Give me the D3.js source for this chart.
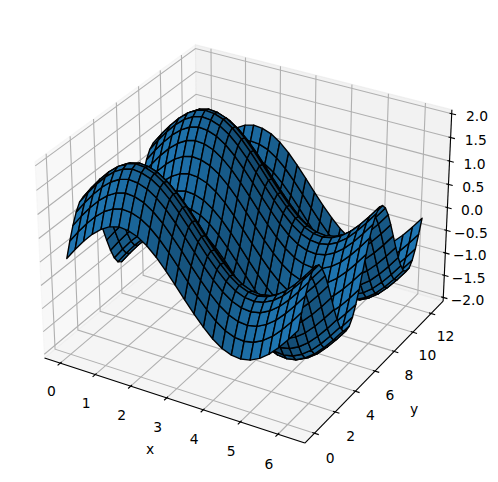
<!DOCTYPE html>
<html><head><meta charset="utf-8">
<style>html,body{margin:0;padding:0;background:#fff}svg{display:block}text{font-family:"DejaVu Sans",sans-serif;font-size:13.89px;fill:#000}</style>
<script src="https://cdn.jsdelivr.net/npm/d3@7"></script></head><body>
<script>
const xValues=[0,.25,.5,.75,1,1.25,1.5,1.75,2,2.25,2.5,2.75,3,3.25,3.5,3.75,4,4.25,4.5,4.75,5,5.25,5.5,5.75,6,6.25];
const yValues=[0,.31,.62,.93,1.24,1.56,1.87,2.18,2.49,2.8,3.11,3.42,3.73,4.04,4.35,4.67,4.98,5.29,5.6,5.91,6.22,6.53,6.84,7.15,7.46,7.78,8.09,8.4,8.71,9.02,9.33,9.64,9.95,10.26,10.57,10.89,11.2,11.51,11.82,12.13,12.44];
const zGrid=[
[0,.25,.48,.68,.84,.95,1,.98,.91,.78,.6,.38,.14,-.11,-.35,-.57,-.76,-.9,-.98,-1,-.96,-.86,-.71,-.51,-.28,-.03],
[.31,.56,.79,.99,1.15,1.26,1.31,1.29,1.22,1.09,.91,.69,.45,.2,-.04,-.26,-.45,-.59,-.67,-.69,-.65,-.55,-.4,-.2,.03,.28],
[.58,.83,1.06,1.26,1.42,1.53,1.58,1.56,1.49,1.36,1.18,.96,.72,.47,.23,.01,-.18,-.32,-.4,-.42,-.38,-.28,-.13,.07,.3,.55],
[.8,1.05,1.28,1.48,1.64,1.75,1.8,1.78,1.71,1.58,1.4,1.18,.94,.69,.45,.23,.04,-.1,-.18,-.2,-.16,-.06,.09,.29,.52,.77],
[.95,1.2,1.43,1.63,1.79,1.9,1.95,1.93,1.86,1.73,1.55,1.33,1.09,.84,.6,.38,.19,.05,-.03,-.05,-.01,.09,.24,.44,.67,.92],
[1,1.25,1.48,1.68,1.84,1.95,2,1.98,1.91,1.78,1.6,1.38,1.14,.89,.65,.43,.24,.1,.02,0,.04,.14,.29,.49,.72,.97],
[.96,1.21,1.44,1.64,1.8,1.91,1.96,1.94,1.87,1.74,1.56,1.34,1.1,.85,.61,.39,.2,.06,-.02,-.04,0,.1,.25,.45,.68,.93],
[.82,1.07,1.3,1.5,1.66,1.77,1.82,1.8,1.73,1.6,1.42,1.2,.96,.71,.47,.25,.06,-.08,-.16,-.18,-.14,-.04,.11,.31,.54,.79],
[.61,.86,1.09,1.29,1.45,1.56,1.61,1.59,1.52,1.39,1.21,.99,.75,.5,.26,.04,-.15,-.29,-.37,-.39,-.35,-.25,-.1,.1,.33,.58],
[.34,.59,.82,1.02,1.18,1.29,1.34,1.32,1.25,1.12,.94,.72,.48,.23,-.01,-.23,-.42,-.56,-.64,-.66,-.62,-.52,-.37,-.17,.06,.31],
[.03,.28,.51,.71,.87,.98,1.03,1.01,.94,.81,.63,.41,.17,-.08,-.32,-.54,-.73,-.87,-.95,-.97,-.93,-.83,-.68,-.48,-.25,0],
[-.28,-.03,.2,.4,.56,.67,.72,.7,.63,.5,.32,.1,-.14,-.39,-.63,-.85,-1.04,-1.18,-1.26,-1.28,-1.24,-1.14,-.99,-.79,-.56,-.31],
[-.56,-.31,-.08,.12,.28,.39,.44,.42,.35,.22,.04,-.18,-.42,-.67,-.91,-1.13,-1.32,-1.46,-1.54,-1.56,-1.52,-1.42,-1.27,-1.07,-.84,-.59],
[-.79,-.54,-.31,-.11,.05,.16,.21,.19,.12,-.01,-.19,-.41,-.65,-.9,-1.14,-1.36,-1.55,-1.69,-1.77,-1.79,-1.75,-1.65,-1.5,-1.3,-1.07,-.82],
[-.94,-.69,-.46,-.26,-.1,.01,.06,.04,-.03,-.16,-.34,-.56,-.8,-1.05,-1.29,-1.51,-1.7,-1.84,-1.92,-1.94,-1.9,-1.8,-1.65,-1.45,-1.22,-.97],
[-1,-.75,-.52,-.32,-.16,-.05,0,-.02,-.09,-.22,-.4,-.62,-.86,-1.11,-1.35,-1.57,-1.76,-1.9,-1.98,-2,-1.96,-1.86,-1.71,-1.51,-1.28,-1.03],
[-.97,-.72,-.49,-.29,-.13,-.02,.03,.01,-.06,-.19,-.37,-.59,-.83,-1.08,-1.32,-1.54,-1.73,-1.87,-1.95,-1.97,-1.93,-1.83,-1.68,-1.48,-1.25,-1],
[-.84,-.59,-.36,-.16,0,.11,.16,.14,.07,-.06,-.24,-.46,-.7,-.95,-1.19,-1.41,-1.6,-1.74,-1.82,-1.84,-1.8,-1.7,-1.55,-1.35,-1.12,-.87],
[-.63,-.38,-.15,.05,.21,.32,.37,.35,.28,.15,-.03,-.25,-.49,-.74,-.98,-1.2,-1.39,-1.53,-1.61,-1.63,-1.59,-1.49,-1.34,-1.14,-.91,-.66],
[-.37,-.12,.11,.31,.47,.58,.63,.61,.54,.41,.23,.01,-.23,-.48,-.72,-.94,-1.13,-1.27,-1.35,-1.37,-1.33,-1.23,-1.08,-.88,-.65,-.4],
[-.06,.19,.42,.62,.78,.89,.94,.92,.85,.72,.54,.32,.08,-.17,-.41,-.63,-.82,-.96,-1.04,-1.06,-1.02,-.92,-.77,-.57,-.34,-.09],
[.25,.5,.73,.93,1.09,1.2,1.25,1.23,1.16,1.03,.85,.63,.39,.14,-.1,-.32,-.51,-.65,-.73,-.75,-.71,-.61,-.46,-.26,-.03,.22],
[.53,.78,1.01,1.21,1.37,1.48,1.53,1.51,1.44,1.31,1.13,.91,.67,.42,.18,-.04,-.23,-.37,-.45,-.47,-.43,-.33,-.18,.02,.25,.5],
[.76,1.01,1.24,1.44,1.6,1.71,1.76,1.74,1.67,1.54,1.36,1.14,.9,.65,.41,.19,0,-.14,-.22,-.24,-.2,-.1,.05,.25,.48,.73],
[.92,1.17,1.4,1.6,1.76,1.87,1.92,1.9,1.83,1.7,1.52,1.3,1.06,.81,.57,.35,.16,.02,-.06,-.08,-.04,.06,.21,.41,.64,.89],
[1,1.25,1.48,1.68,1.84,1.95,2,1.98,1.91,1.78,1.6,1.38,1.14,.89,.65,.43,.24,.1,.02,0,.04,.14,.29,.49,.72,.97],
[.97,1.22,1.45,1.65,1.81,1.92,1.97,1.95,1.88,1.75,1.57,1.35,1.11,.86,.62,.4,.21,.07,-.01,-.03,.01,.11,.26,.46,.69,.94],
[.86,1.11,1.34,1.54,1.7,1.81,1.86,1.84,1.77,1.64,1.46,1.24,1,.75,.51,.29,.1,-.04,-.12,-.14,-.1,0,.15,.35,.58,.83],
[.66,.91,1.14,1.34,1.5,1.61,1.66,1.64,1.57,1.44,1.26,1.04,.8,.55,.31,.09,-.1,-.24,-.32,-.34,-.3,-.2,-.05,.15,.38,.63],
[.39,.64,.87,1.07,1.23,1.34,1.39,1.37,1.3,1.17,.99,.77,.53,.28,.04,-.18,-.37,-.51,-.59,-.61,-.57,-.47,-.32,-.12,.11,.36],
[.09,.34,.57,.77,.93,1.04,1.09,1.07,1,.87,.69,.47,.23,-.02,-.26,-.48,-.67,-.81,-.89,-.91,-.87,-.77,-.62,-.42,-.19,.06],
[-.22,.03,.26,.46,.62,.73,.78,.76,.69,.56,.38,.16,-.08,-.33,-.57,-.79,-.98,-1.12,-1.2,-1.22,-1.18,-1.08,-.93,-.73,-.5,-.25],
[-.5,-.25,-.02,.18,.34,.45,.5,.48,.41,.28,.1,-.12,-.36,-.61,-.85,-1.07,-1.26,-1.4,-1.48,-1.5,-1.46,-1.36,-1.21,-1.01,-.78,-.53],
[-.74,-.49,-.26,-.06,.1,.21,.26,.24,.17,.04,-.14,-.36,-.6,-.85,-1.09,-1.31,-1.5,-1.64,-1.72,-1.74,-1.7,-1.6,-1.45,-1.25,-1.02,-.77],
[-.91,-.66,-.43,-.23,-.07,.04,.09,.07,0,-.13,-.31,-.53,-.77,-1.02,-1.26,-1.48,-1.67,-1.81,-1.89,-1.91,-1.87,-1.77,-1.62,-1.42,-1.19,-.94],
[-.99,-.74,-.51,-.31,-.15,-.04,.01,-.01,-.08,-.21,-.39,-.61,-.85,-1.1,-1.34,-1.56,-1.75,-1.89,-1.97,-1.99,-1.95,-1.85,-1.7,-1.5,-1.27,-1.02],
[-.98,-.73,-.5,-.3,-.14,-.03,.02,0,-.07,-.2,-.38,-.6,-.84,-1.09,-1.33,-1.55,-1.74,-1.88,-1.96,-1.98,-1.94,-1.84,-1.69,-1.49,-1.26,-1.01],
[-.87,-.62,-.39,-.19,-.03,.08,.13,.11,.04,-.09,-.27,-.49,-.73,-.98,-1.22,-1.44,-1.63,-1.77,-1.85,-1.87,-1.83,-1.73,-1.58,-1.38,-1.15,-.9],
[-.68,-.43,-.2,0,.16,.27,.32,.3,.23,.1,-.08,-.3,-.54,-.79,-1.03,-1.25,-1.44,-1.58,-1.66,-1.68,-1.64,-1.54,-1.39,-1.19,-.96,-.71],
[-.42,-.17,.06,.26,.42,.53,.58,.56,.49,.36,.18,-.04,-.28,-.53,-.77,-.99,-1.18,-1.32,-1.4,-1.42,-1.38,-1.28,-1.13,-.93,-.7,-.45],
[-.13,.12,.35,.55,.71,.82,.87,.85,.78,.65,.47,.25,.01,-.24,-.48,-.7,-.89,-1.03,-1.11,-1.13,-1.09,-.99,-.84,-.64,-.41,-.16]
];
const xTicks=[0,1,2,3,4,5,6], yTicks=[0,2,4,6,8,10,12], zTicks=[-2,-1.5,-1,-.5,0,.5,1,1.5,2];
const xLim=[-.3125,6.5625], yLim=[-.622,13.062], zLim=[-2,2];
const W=498,H=482;
const box=[8/7,8/7,6/7],R=box.map(b=>b/2);
const sx=d3.scaleLinear().domain(xLim).range([0,box[0]]),sy=d3.scaleLinear().domain(yLim).range([0,box[1]]),sz=d3.scaleLinear().domain(zLim).range([0,box[2]]);
const c30=Math.cos(Math.PI/6),s30=.5,cA=Math.cos(-Math.PI/3),sA=Math.sin(-Math.PI/3);
const w=[c30*cA,c30*sA,s30],u=[.8660254,.5,0],v=[-w[2]*u[1],w[2]*u[0],w[0]*u[1]-w[1]*u[0]];
const dot=(a,b)=>a[0]*b[0]+a[1]*b[1]+a[2]*b[2];
const px=d3.scaleLinear().domain([-.095,.09]).range([247.5-.095*2505,247.5+.09*2505]);
const py=d3.scaleLinear().domain([-.095,.09]).range([234.3+.095*2505,234.3-.09*2505]);
function proj(x,y,z){const d=[sx(x)-R[0],sy(y)-R[1],sz(z)-R[2]];const k=10-dot(w,d);return {x:px(dot(u,d)/k),y:py(dot(v,d)/k),depth:k};}
const svg=d3.select("body").append("svg").attr("width",W).attr("height",H);
const pad=a=>{const r=(a[1]-a[0])/48;return [a[0]-r,a[1]+r];};
const X=pad(xLim),Y=pad(yLim),Z=pad(zLim);
const line=d3.line().x(d=>d.x).y(d=>d.y);
const poly=pts=>line(pts.map(p=>proj(...p)))+"Z";
const panes=[
 {p:[[X[0],Y[0],Z[0]],[X[0],Y[1],Z[0]],[X[0],Y[1],Z[1]],[X[0],Y[0],Z[1]]],c:.95},
 {p:[[X[0],Y[1],Z[0]],[X[1],Y[1],Z[0]],[X[1],Y[1],Z[1]],[X[0],Y[1],Z[1]]],c:.90},
 {p:[[X[0],Y[0],Z[0]],[X[1],Y[0],Z[0]],[X[1],Y[1],Z[0]],[X[0],Y[1],Z[0]]],c:.925}];
svg.selectAll(".pane").data(panes).join("path").attr("d",d=>poly(d.p)).attr("fill",d=>d3.rgb(d.c*255,d.c*255,d.c*255)).attr("fill-opacity",.5).attr("stroke",d=>d3.rgb(d.c*255,d.c*255,d.c*255)).attr("stroke-opacity",.5).attr("stroke-width",1.1);
const grid=[
 ...xTicks.map(t=>[[t,Y[0],Z[0]],[t,Y[1],Z[0]],[t,Y[1],Z[1]]]),
 ...yTicks.map(t=>[[X[1],t,Z[0]],[X[0],t,Z[0]],[X[0],t,Z[1]]]),
 ...zTicks.map(t=>[[X[0],Y[0],t],[X[0],Y[1],t],[X[1],Y[1],t]])];
svg.selectAll(".grid").data(grid).join("path").attr("d",d=>line(d.map(p=>proj(...p)))).attr("fill","none").attr("stroke","#b0b0b0").attr("stroke-width",1.11);
const axes=[[[X[0],Y[0],Z[0]],[X[1],Y[0],Z[0]]],[[X[1],Y[0],Z[0]],[X[1],Y[1],Z[0]]],[[X[1],Y[1],Z[0]],[X[1],Y[1],Z[1]]]];
svg.selectAll(".axis").data(axes).join("path").attr("d",d=>line(d.map(p=>proj(...p)))).attr("fill","none").attr("stroke","#000").attr("stroke-width",1.11);
const dx=(xLim[1]-xLim[0])/12,dy=(yLim[1]-yLim[0])/12;
const ticks=[
 ...xTicks.map(t=>[[t,Y[0]+.1*dy,Z[0]],[t,Y[0]-.2*dy,Z[0]]]),
 ...yTicks.map(t=>[[X[1]-.1*dx,t,Z[0]],[X[1]+.2*dx,t,Z[0]]]),
 ...zTicks.map(t=>[[X[1]-.1*dx,Y[1],t],[X[1]+.2*dx,Y[1],t]])];
svg.selectAll(".tick").data(ticks).join("path").attr("d",d=>line(d.map(p=>proj(...p)))).attr("fill","none").attr("stroke","#000").attr("stroke-width",1.11);
const light=[-.6667,-.6667,.3333],base=[31,119,180];
const faces=[];
for(let j=0;j<yValues.length-1;j++)for(let i=0;i<xValues.length-1;i++){
 const P=[[i,j],[i+1,j],[i+1,j+1],[i,j+1]].map(([a,b])=>[xValues[a],yValues[b],zGrid[b][a]]);
 const d1=[P[2][0]-P[0][0],P[2][1]-P[0][1],P[2][2]-P[0][2]],d2=[P[3][0]-P[1][0],P[3][1]-P[1][1],P[3][2]-P[1][2]];
 const n=[d1[1]*d2[2]-d1[2]*d2[1],d1[2]*d2[0]-d1[0]*d2[2],d1[0]*d2[1]-d1[1]*d2[0]];
 const shade=dot(n,light)/Math.sqrt(dot(n,n));
 const f=.3+.7*(shade+1)/2;
 const pr=P.map(p=>proj(...p));
 faces.push({pr,f,depth:d3.mean(pr,q=>q.depth)});
}
faces.sort((a,b)=>b.depth-a.depth);
svg.selectAll(".face").data(faces).join("path").attr("d",d=>line(d.pr)+"Z").attr("fill",d=>d3.rgb(...base.map(c=>c*d.f))).attr("stroke","#000").attr("stroke-width",1.39).attr("stroke-linejoin","round");
const labels=[
 ...xTicks.map(t=>({s:String(t),p:[t+.02,Y[0]-.9,Z[0]-.42]})),
 ...yTicks.map(t=>({s:String(t),p:[X[1]+.42,t,Z[0]-.42]})),
 ...zTicks.map(t=>({s:d3.format(".1f")(t).replace("-","\u2212"),p:[X[1]+.55,Y[1]+.5,t-.03]})),
 {s:"x",p:[(X[0]+X[1])/2+.22,Y[0]-2.6,Z[0]-.42]},
 {s:"y",p:[X[1]+1.02,(Y[0]+Y[1])/2,Z[0]-.62]}];
svg.selectAll(".lab").data(labels).join("text").attr("text-anchor","middle").attr("dominant-baseline","central").attr("x",d=>proj(...d.p).x).attr("y",d=>proj(...d.p).y).text(d=>d.s);
</script></body></html>
